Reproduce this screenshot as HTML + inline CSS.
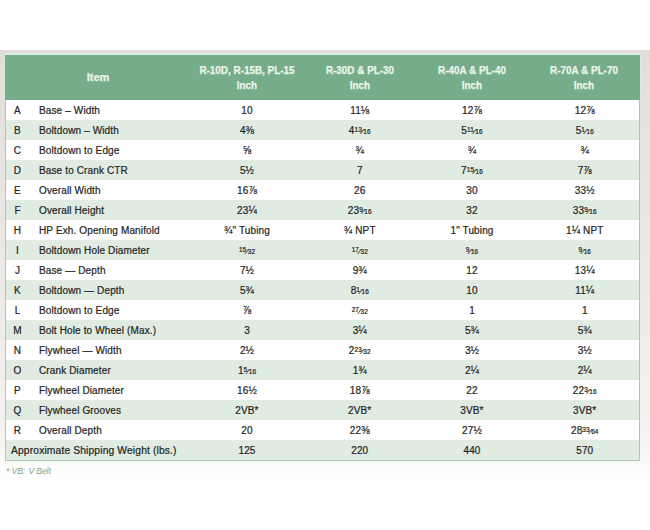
<!DOCTYPE html>
<html><head><meta charset="utf-8">
<style>
html,body{margin:0;padding:0;width:650px;height:530px;overflow:hidden;background:#fff;position:relative;font-family:"Liberation Sans",sans-serif;}
.bg{position:absolute;left:0;top:50px;width:650px;height:430px;background:linear-gradient(to bottom,#e2dcd9 0px,#e4dfdc 25px,#ece9e6 225px,#f4f2f0 375px,#faf9f8 410px,#ffffff 428px);}
.tb{position:absolute;left:5px;top:54px;width:633px;height:405px;border:1px solid #b0c4b8;border-top-color:#dcebdf;background:#fff;}
.hd{position:absolute;left:-1px;top:0;width:635px;height:45px;background:#76ac8a;color:#ecf5ec;font-weight:bold;font-size:11px;-webkit-text-stroke:0.25px #ecf5ec;}
.hd span{position:absolute;text-align:center;width:140px;line-height:15px;transform:scaleX(0.9);}
.r{position:absolute;left:0;width:633px;height:20px;color:#1f1f1f;font-size:10px;line-height:21px;-webkit-text-stroke:0.22px #262626;letter-spacing:0.13px;}
.hdb{position:absolute;left:-2px;top:-2px;width:635px;height:46px;border:1px solid #dcebdf;border-top-width:2px;border-bottom:none;}
.alt{background:#e0ebe2;}
.l{position:absolute;left:0;width:23px;text-align:center;}
.it{position:absolute;left:33px;white-space:nowrap;}
.sh{position:absolute;left:5px;white-space:nowrap;font-size:10.3px;}
.v{position:absolute;width:120px;text-align:center;white-space:nowrap;}
.fr{font-size:0.8em;}
.fr sup{font-size:0.8em;vertical-align:0.35em;line-height:0;}
.fr sub{font-size:0.8em;vertical-align:0;line-height:0;}
.note{position:absolute;left:6px;top:465.5px;font-size:8.6px;letter-spacing:-0.1px;font-style:italic;color:#7fa68f;}
</style></head><body>
<div class="bg"></div>
<div class="tb">
<div class="hdb"></div><div class="hd">
<span style="left:23px;top:15px;transform:none;font-size:11px">Item</span>
<span style="left:172px;top:8px">R-10D, R-15B, PL-15<br>Inch</span>
<span style="left:284.75px;top:8px">R-30D &amp; PL-30<br>Inch</span>
<span style="left:397px;top:8px">R-40A &amp; PL-40<br>Inch</span>
<span style="left:508.75px;top:8px">R-70A &amp; PL-70<br>Inch</span>
</div>
<div class="r" style="top:45px">
<span class="l">A</span><span class="it">Base – Width</span>
<span class="v" style="left:181px">10</span>
<span class="v" style="left:293.75px">11⅛</span>
<span class="v" style="left:406px">12⅞</span>
<span class="v" style="left:518.75px">12⅞</span>
</div>
<div class="r alt" style="top:65px">
<span class="l">B</span><span class="it">Boltdown – Width</span>
<span class="v" style="left:181px">4⅜</span>
<span class="v" style="left:293.75px">4<span class="fr"><sup>13</sup>⁄<sub>16</sub></span></span>
<span class="v" style="left:406px">5<span class="fr"><sup>11</sup>⁄<sub>16</sub></span></span>
<span class="v" style="left:518.75px">5<span class="fr"><sup>1</sup>⁄<sub>16</sub></span></span>
</div>
<div class="r" style="top:85px">
<span class="l">C</span><span class="it">Boltdown to Edge</span>
<span class="v" style="left:181px">⅝</span>
<span class="v" style="left:293.75px">¾</span>
<span class="v" style="left:406px">¾</span>
<span class="v" style="left:518.75px">¾</span>
</div>
<div class="r alt" style="top:105px">
<span class="l">D</span><span class="it">Base to Crank CTR</span>
<span class="v" style="left:181px">5½</span>
<span class="v" style="left:293.75px">7</span>
<span class="v" style="left:406px">7<span class="fr"><sup>15</sup>⁄<sub>16</sub></span></span>
<span class="v" style="left:518.75px">7⅞</span>
</div>
<div class="r" style="top:125px">
<span class="l">E</span><span class="it">Overall Width</span>
<span class="v" style="left:181px">16⅞</span>
<span class="v" style="left:293.75px">26</span>
<span class="v" style="left:406px">30</span>
<span class="v" style="left:518.75px">33½</span>
</div>
<div class="r alt" style="top:145px">
<span class="l">F</span><span class="it">Overall Height</span>
<span class="v" style="left:181px">23¼</span>
<span class="v" style="left:293.75px">23<span class="fr"><sup>9</sup>⁄<sub>16</sub></span></span>
<span class="v" style="left:406px">32</span>
<span class="v" style="left:518.75px">33<span class="fr"><sup>9</sup>⁄<sub>16</sub></span></span>
</div>
<div class="r" style="top:165px">
<span class="l">H</span><span class="it">HP Exh. Opening Manifold</span>
<span class="v" style="left:181px">¾" Tubing</span>
<span class="v" style="left:293.75px">¾ NPT</span>
<span class="v" style="left:406px">1" Tubing</span>
<span class="v" style="left:518.75px">1¼ NPT</span>
</div>
<div class="r alt" style="top:185px">
<span class="l">I</span><span class="it">Boltdown Hole Diameter</span>
<span class="v" style="left:181px"><span class="fr"><sup>15</sup>⁄<sub>32</sub></span></span>
<span class="v" style="left:293.75px"><span class="fr"><sup>17</sup>⁄<sub>32</sub></span></span>
<span class="v" style="left:406px"><span class="fr"><sup>9</sup>⁄<sub>16</sub></span></span>
<span class="v" style="left:518.75px"><span class="fr"><sup>9</sup>⁄<sub>16</sub></span></span>
</div>
<div class="r" style="top:205px">
<span class="l">J</span><span class="it">Base — Depth</span>
<span class="v" style="left:181px">7½</span>
<span class="v" style="left:293.75px">9¾</span>
<span class="v" style="left:406px">12</span>
<span class="v" style="left:518.75px">13¼</span>
</div>
<div class="r alt" style="top:225px">
<span class="l">K</span><span class="it">Boltdown — Depth</span>
<span class="v" style="left:181px">5¾</span>
<span class="v" style="left:293.75px">8<span class="fr"><sup>1</sup>⁄<sub>16</sub></span></span>
<span class="v" style="left:406px">10</span>
<span class="v" style="left:518.75px">11¼</span>
</div>
<div class="r" style="top:245px">
<span class="l">L</span><span class="it">Boltdown to Edge</span>
<span class="v" style="left:181px">⅞</span>
<span class="v" style="left:293.75px"><span class="fr"><sup>27</sup>⁄<sub>32</sub></span></span>
<span class="v" style="left:406px">1</span>
<span class="v" style="left:518.75px">1</span>
</div>
<div class="r alt" style="top:265px">
<span class="l">M</span><span class="it">Bolt Hole to Wheel (Max.)</span>
<span class="v" style="left:181px">3</span>
<span class="v" style="left:293.75px">3¼</span>
<span class="v" style="left:406px">5¾</span>
<span class="v" style="left:518.75px">5¾</span>
</div>
<div class="r" style="top:285px">
<span class="l">N</span><span class="it">Flywheel — Width</span>
<span class="v" style="left:181px">2½</span>
<span class="v" style="left:293.75px">2<span class="fr"><sup>23</sup>⁄<sub>32</sub></span></span>
<span class="v" style="left:406px">3½</span>
<span class="v" style="left:518.75px">3½</span>
</div>
<div class="r alt" style="top:305px">
<span class="l">O</span><span class="it">Crank Diameter</span>
<span class="v" style="left:181px">1<span class="fr"><sup>5</sup>⁄<sub>16</sub></span></span>
<span class="v" style="left:293.75px">1¾</span>
<span class="v" style="left:406px">2¼</span>
<span class="v" style="left:518.75px">2¼</span>
</div>
<div class="r" style="top:325px">
<span class="l">P</span><span class="it">Flywheel Diameter</span>
<span class="v" style="left:181px">16½</span>
<span class="v" style="left:293.75px">18⅞</span>
<span class="v" style="left:406px">22</span>
<span class="v" style="left:518.75px">22<span class="fr"><sup>3</sup>⁄<sub>16</sub></span></span>
</div>
<div class="r alt" style="top:345px">
<span class="l">Q</span><span class="it">Flywheel Grooves</span>
<span class="v" style="left:181px">2VB*</span>
<span class="v" style="left:293.75px">2VB*</span>
<span class="v" style="left:406px">3VB*</span>
<span class="v" style="left:518.75px">3VB*</span>
</div>
<div class="r" style="top:365px">
<span class="l">R</span><span class="it">Overall Depth</span>
<span class="v" style="left:181px">20</span>
<span class="v" style="left:293.75px">22⅜</span>
<span class="v" style="left:406px">27½</span>
<span class="v" style="left:518.75px">28<span class="fr"><sup>33</sup>⁄<sub>64</sub></span></span>
</div>
<div class="r alt" style="top:385px"><span class="sh">Approximate Shipping Weight (lbs.)</span>
<span class="v" style="left:181px">125</span>
<span class="v" style="left:293.75px">220</span>
<span class="v" style="left:406px">440</span>
<span class="v" style="left:518.75px">570</span>
</div>
</div>
<div class="note">* VB: <span style="margin-left:1px"></span>V Belt</div>
</body></html>
